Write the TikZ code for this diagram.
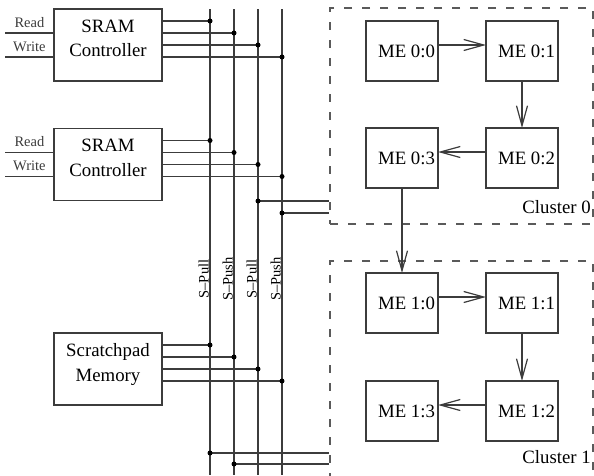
\documentclass[tikz,border=0pt]{standalone}
\usepackage{fontspec}
\setmainfont{Liberation Serif}
\usetikzlibrary{arrows.meta,positioning}
\definecolor{ink}{HTML}{000000}
\definecolor{wirec}{HTML}{3C3C3C}
\definecolor{dashc}{HTML}{5A5A5A}
\newcommand{\unitfont}{\fontsize{18.8}{24.5}\selectfont}
\newcommand{\tagfont}{\fontsize{14.5}{17}\selectfont}
\tikzset{
  wire/.style={wirec,line width=1.2pt},
  unit/.style={draw=wirec,line width=1.2pt,minimum width=108pt,minimum height=72pt,
    align=center,font=\unitfont,text depth=13pt},
  me/.style={draw=wirec,line width=1.2pt,minimum height=60pt,inner xsep=3pt,
    text width=66pt,align=flush right,font=\unitfont,outer sep=0pt},
  cluster/.style={draw=dashc,line width=1.2pt,dash pattern=on 8pt off 10pt,
    minimum width=263pt,minimum height=216pt,inner sep=0pt},
  dot/.style={circle,fill=ink,inner sep=0pt,minimum size=5pt},
  flow/.style={wire,-{Straight Barb[length=20pt,width=11pt]}},
  tag/.style={font=\tagfont,inner sep=0pt,anchor=base,yshift=6pt},
  buslbl/.style={font=\tagfont,rotate=90,anchor=south,inner sep=1pt},
  clbl/.style={font=\unitfont,anchor=base east,inner sep=0pt},
}
\begin{document}
\begin{tikzpicture}[x=1pt,y=-1pt]
  \useasboundingbox (0,0) rectangle (594,475);
  % the four bus lines
  \foreach \b/\x in {1/210,2/234,3/258,4/282}{
    \coordinate (bus\b) at (\x,9);
    \coordinate (end\b) at (\x,475);
    \draw[wire] (bus\b) -- (end\b);
  }
  \foreach \b/\t in {1/Pull,2/Push,3/Pull,4/Push}
    \node[buslbl] (lbl\b) at (bus\b |- 0,279) {S--\t};
  % memory side
  \node[unit] (sram1) at (108,45) {SRAM\\Controller};
  \node[unit] (sram2) at (108,164.5) {SRAM\\Controller};
  \node[unit] (scratch) at (108,369) {Scratchpad\\Memory};
  \foreach \m in {sram1,sram2}{
    \path (\m.west) ++(-48,-12) coordinate (rd\m) ++(0,24) coordinate (wr\m);
    \draw[wire] (rd\m) -- (rd\m -| \m.west) node[tag,midway] (rdl\m) {Read};
    \draw[wire] (wr\m) -- (wr\m -| \m.west) node[tag,midway] (wrl\m) {Write};
  }
  \foreach \m in {sram1,sram2,scratch}
    \foreach \b/\dy in {1/-24,2/-12,3/0,4/12}{
      \path (\m.east) ++(0,\dy) coordinate (o\m\b);
      \draw[wire] (o\m\b) -- (o\m\b -| bus\b) node[dot] (j\m\b) {};
    }
  % clusters
  \node[cluster] (cl0) at (461.5,116) {};
  \node[cluster] (cl1) at (461.5,369) {};
  \node[clbl] (cl0lbl) at (591,213) {Cluster 0};
  \node[clbl] (cl1lbl) at (591,463) {Cluster 1};
  \draw[wire] (bus3 |- 0,201) node[dot] (k1) {} -- (cl0.west |- 0,201);
  \draw[wire] (bus4 |- 0,213) node[dot] (k2) {} -- (cl0.west |- 0,213);
  \draw[wire] (bus1 |- 0,453) node[dot] (k3) {} -- (cl1.west |- 0,453);
  \draw[wire] (bus2 |- 0,464) node[dot] (k4) {} -- (cl1.west |- 0,464);
  % micro engines
  \node[me] (m00) at (402,51) {ME 0:0};
  \node[me,right=48pt of m00] (m01) {ME 0:1};
  \node[me,below=47pt of m01] (m02) {ME 0:2};
  \node[me,left=48pt of m02] (m03) {ME 0:3};
  \node[me] (m10) at (402,303) {ME 1:0};
  \node[me,right=48pt of m10] (m11) {ME 1:1};
  \node[me,below=48pt of m11] (m12) {ME 1:2};
  \node[me,left=48pt of m12] (m13) {ME 1:3};
  \draw[flow] ([yshift=6pt]m00.east) -- ([yshift=6pt]m01.west);
  \draw[flow] (m01) -- (m02);
  \draw[flow] ([yshift=6pt]m02.west) -- ([yshift=6pt]m03.east);
  \draw[flow] (m03) -- (m10);
  \draw[flow] ([yshift=6pt]m10.east) -- ([yshift=6pt]m11.west);
  \draw[flow] (m11) -- (m12);
  \draw[flow] ([yshift=6pt]m12.west) -- ([yshift=6pt]m13.east);
\end{tikzpicture}
\end{document}
